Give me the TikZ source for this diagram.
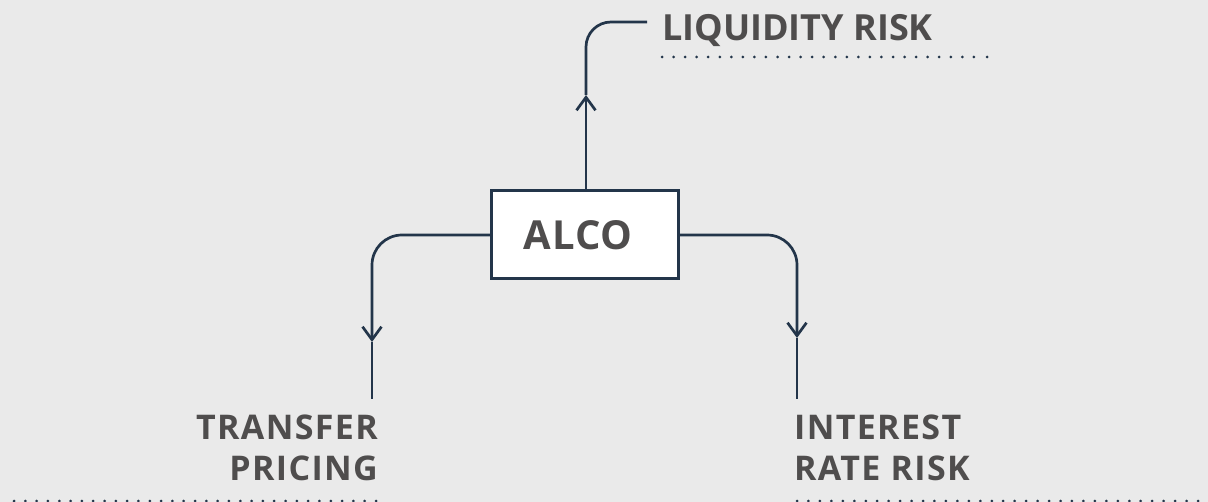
\documentclass[tikz,border=0pt]{standalone}
\usepackage{fontspec}
\setmainfont{Open Sans}
\usetikzlibrary{arrows.meta}
\definecolor{bgc}{HTML}{EAEAEA}
\definecolor{txt}{HTML}{4F4D4D}
\definecolor{navy}{HTML}{23354A}
\tikzset{
  conn/.style={draw=navy, line width=2.7pt},
  barb/.style={-{Straight Barb[length=13pt,width=19pt,line width=2.7pt]}},
  lbl/.style={text=txt, font=\bfseries\fontsize{34}{41.5}\selectfont\addfontfeature{LetterSpace=4}, inner sep=0pt},
  toplbl/.style={text=txt, font=\bfseries\fontsize{36}{43}\selectfont, inner sep=0pt},
  dots/.style={draw=navy, line width=3pt, line cap=round},
  boxstyle/.style={draw=navy, line width=3pt, fill=white, minimum width=187pt, minimum height=88pt, inner sep=0pt,
    text=txt, font=\bfseries\fontsize{40}{48}\selectfont\addfontfeature{LetterSpace=3}}
}
\begin{document}
\begin{tikzpicture}[x=1pt,y=-1pt]
\fill[bgc] (0,0) rectangle (1208,502);
\useasboundingbox (0,0) rectangle (1208,502);

\node[boxstyle] (alco) at (585,235) {\hspace*{-14pt}ALCO};

\node[toplbl, anchor=base west] (liq) at (662,41) {LIQUIDITY RISK};
\node[lbl, anchor=base east, align=right] (tp) at (378,481) {TRANSFER\\PRICING};
\node[lbl, anchor=base west, align=left] (irr) at (794,481) {INTEREST\\RATE RISK};

\coordinate (tA) at (586,95);
\coordinate (tE) at (647,22);
\coordinate (lA) at (372,342);
\coordinate (lE) at (372,399);
\coordinate (rA) at (797,338);
\coordinate (rE) at (797,399);

\draw[conn, barb] (alco.north -| tA) -- (tA);
\draw[conn, rounded corners=25pt] (tA) |- (tE);

\draw[conn, barb, rounded corners=30pt] (alco.west) -| (lA);
\draw[conn] (lA) -- (lE);

\draw[conn, barb, rounded corners=30pt] (alco.east) -| (rA);
\draw[conn] (rA) -- (rE);

% dotted rules under labels
\draw[dots, dash pattern=on 0pt off 11.55pt] (662,57) -- (976,57);
\fill[navy] (987,57) circle (1.5pt);
\draw[dots, dash pattern=on 0pt off 11.3125pt] (14,501) -- (376.1,501);
\draw[dots, dash pattern=on 0pt off 11.457pt] (797,501) -- (1198.1,501);
\end{tikzpicture}
\end{document}
